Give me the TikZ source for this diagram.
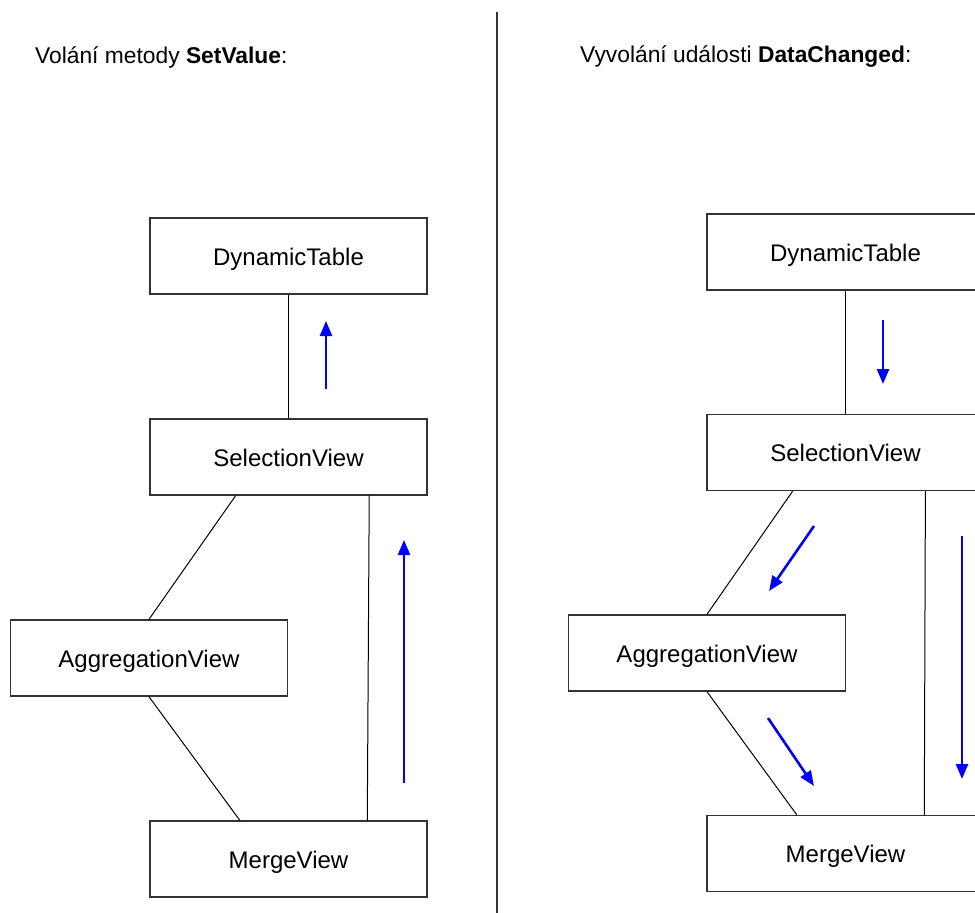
\documentclass[tikz,border=0pt]{standalone}
\usepackage{fontspec}
\setmainfont{Liberation Sans}
\usetikzlibrary{arrows.meta,calc}
\tikzset{
  cls/.style={draw=black!80, line width=1.4pt, fill=white, minimum width=277pt,
    minimum height=76pt, inner sep=0pt, text height=18pt, text depth=0pt,
    font=\fontsize{24}{28}\selectfont},
  link/.style={draw=black, line width=1pt},
  flow/.style={draw=blue, line width=2.6pt, -{Triangle[length=15pt,width=12pt]}},
  heading/.style={anchor=west, inner sep=0pt, font=\fontsize{22.8}{27}\selectfont}
}
\begin{document}
\begin{tikzpicture}[x=1pt,y=-1pt]
\clip (0,0) rectangle (975,913);
\fill[white] (0,0) rectangle (975,913);

% separator between the two scenarios
\draw[black!80, line width=1.2pt] (497,12) -- (497,913);

% ---- calling SetValue ----
\node[heading] (tL) at (35,57) {Volání metody \textbf{SetValue}:};
\node[cls] (dtL) at (288.5,256) {DynamicTable};
\node[cls] (svL) at (288.5,457) {SelectionView};
\node[cls] (avL) at (149,658) {AggregationView};
\node[cls] (mvL) at (288.5,859) {MergeView};

\draw[link] (dtL.south) -- (svL.north);
\draw[link] ($(svL.south west)!0.31!(svL.south east)$) -- (avL.north);
\draw[link] (avL.south) -- ($(mvL.north west)!0.325!(mvL.north east)$);
\draw[link] ($(svL.south west)!0.79!(svL.south east)$) -- ($(mvL.north west)!0.783!(mvL.north east)$);

\coordinate (aL1s) at (326,389); \coordinate (aL1e) at (326,321);
\coordinate (aL2s) at (404,783); \coordinate (aL2e) at (404,540);
\draw[flow] (aL1s) -- (aL1e);
\draw[flow] (aL2s) -- (aL2e);

% ---- raising DataChanged ----
\node[heading] (tR) at (580,57) {Vyvolání události \textbf{DataChanged}:};
\node[cls] (dtR) at (845.5,252) {DynamicTable};
\node[cls] (svR) at (845.5,452.5) {SelectionView};
\node[cls] (avR) at (707,653) {AggregationView};
\node[cls] (mvR) at (845.5,853.5) {MergeView};

\draw[link] (dtR.south) -- (svR.north);
\draw[link] ($(svR.south west)!0.31!(svR.south east)$) -- (avR.north);
\draw[link] (avR.south) -- ($(mvR.north west)!0.325!(mvR.north east)$);
\draw[link] ($(svR.south west)!0.787!(svR.south east)$) -- ($(mvR.north west)!0.783!(mvR.north east)$);

\coordinate (aR1s) at (883,320); \coordinate (aR1e) at (883,384);
\coordinate (aR2s) at (814,526); \coordinate (aR2e) at (769,591);
\coordinate (aR3s) at (768,718); \coordinate (aR3e) at (814,786);
\coordinate (aR4s) at (962,536); \coordinate (aR4e) at (962,779);
\draw[flow] (aR1s) -- (aR1e);
\draw[flow] (aR2s) -- (aR2e);
\draw[flow] (aR3s) -- (aR3e);
\draw[flow] (aR4s) -- (aR4e);
\end{tikzpicture}
\end{document}
